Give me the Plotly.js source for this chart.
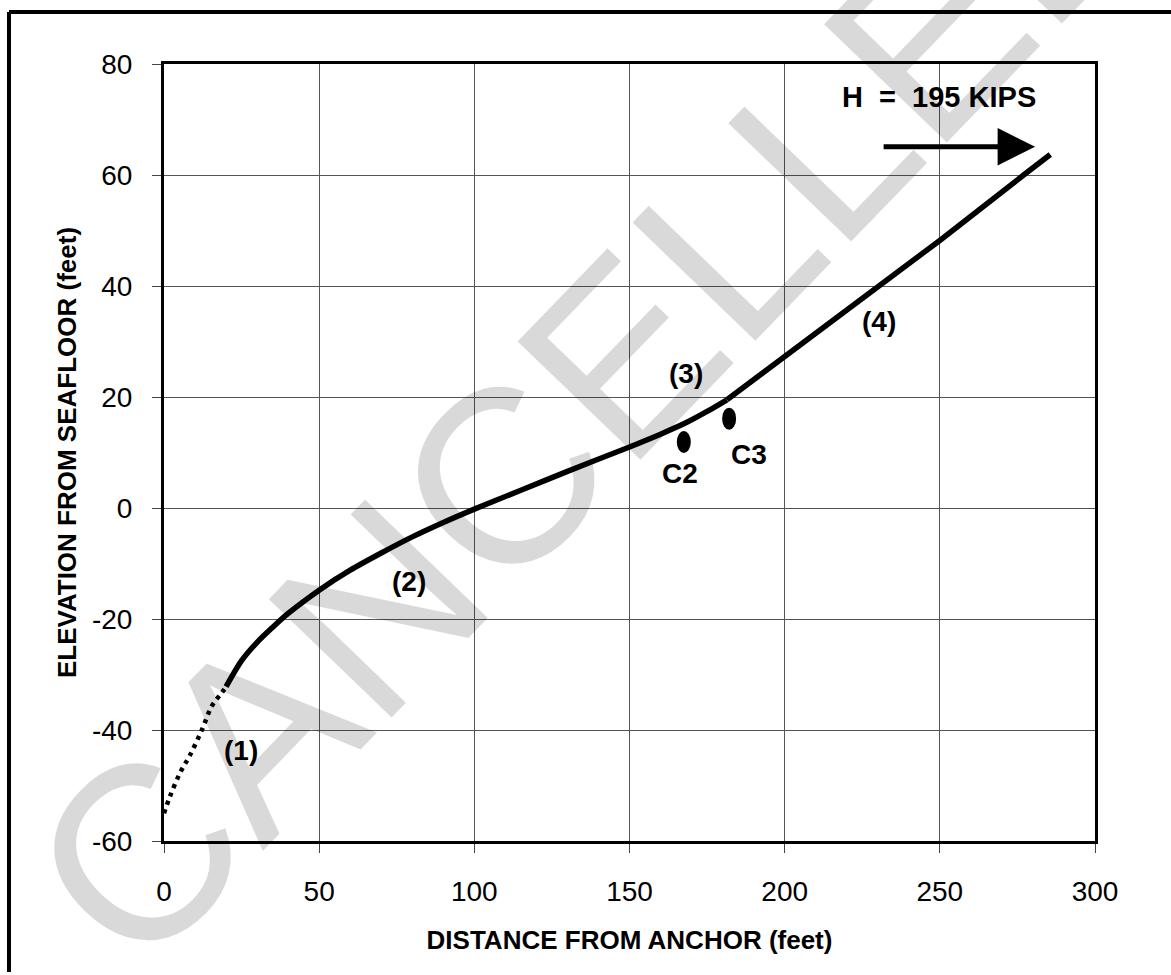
<!DOCTYPE html>
<html>
<head>
<meta charset="utf-8">
<script src="https://cdn.plot.ly/plotly-3.0.1.min.js"></script>
<style>html,body{margin:0;padding:0;background:#fff;}#chart{width:1171px;height:975px;}</style>
</head>
<body>
<div id="chart"></div>
<script>
// ---- data ----
const dottedX = [0, 1.9, 5.2, 8.4, 12.2, 15.4, 18.6, 20];
const dottedY = [-55, -52, -47.7, -44.5, -40, -35.7, -33.3, -32.2];

const curveX = [20, 25, 30, 35, 40, 50, 60, 70, 80, 90, 100, 115, 130, 150, 160, 168, 175, 181.4];
const curveY = [-32.2, -27.5, -24.2, -21.5, -19.0, -14.8, -11.2, -8.1, -5.2, -2.6, -0.2, 3.2, 6.6, 11.0, 13.3, 15.3, 17.4, 19.5];

const upperX = [181.4, 198.6, 228.7, 250.2, 277.0, 285.6];
const upperY = [19.5, 26.7, 39.3, 48.3, 60.0, 63.7];

const markerX = [167.5, 182.1];
const markerY = [11.9, 16.1];

const labelText = ['(1)', '(2)', '(3)', '(4)', 'C2', 'C3'];
const labelX = [24.8, 79.0, 168.2, 230.3, 166.3, 188.4];
const labelY = [-43.7, -13.2, 24.2, 33.6, 6.2, 9.6];

const forceText = 'H  =  195 KIPS';
const forceTextX = 249.6, forceTextY = 74.1;
const forceX = [231.4, 280.7];
const forceY = [65.1, 65.1];

const xTicks = [0, 50, 100, 150, 200, 250, 300];
const yTicks = [-60, -40, -20, 0, 20, 40, 60, 80];

const xTitle = 'DISTANCE FROM ANCHOR (feet)';
const yTitle = 'ELEVATION FROM SEAFLOOR (feet)';
const watermark = 'CANCELLED';

// ---- chart ----
const FONT = 'Liberation Sans, Arial, Helvetica, sans-serif';

const traces = [
  {x: dottedX, y: dottedY, mode: 'lines', line: {color: '#000', width: 4.5, dash: '4px,5px', shape: 'spline'}, hoverinfo: 'skip'},
  {x: curveX, y: curveY, mode: 'lines', line: {color: '#000', width: 5.5, shape: 'spline', smoothing: 0.8}, hoverinfo: 'skip'},
  {x: upperX, y: upperY, mode: 'lines', line: {color: '#000', width: 5.5}, hoverinfo: 'skip'}
];

const annotations = labelText.map((t, i) => ({
  x: labelX[i], y: labelY[i], xref: 'x', yref: 'y', text: '<b>' + t + '</b>',
  showarrow: false, font: {family: FONT, size: 28, color: '#000'}
}));
annotations.push({
  x: forceTextX, y: forceTextY, xref: 'x', yref: 'y', text: '<b>' + forceText + '</b>',
  showarrow: false, font: {family: FONT, size: 29, color: '#000'}
});
annotations.push({
  x: forceX[1], y: forceY[1], ax: forceX[0], ay: forceY[0], xref: 'x', yref: 'y', axref: 'x', ayref: 'y',
  text: '', showarrow: true, arrowhead: 2, arrowwidth: 5, arrowsize: 1.5, arrowcolor: '#000'
});
annotations.push({
  x: 0.461, y: 0.587, xref: 'paper', yref: 'paper', text: watermark, showarrow: false,
  textangle: -46, font: {family: FONT, size: 248, color: 'rgba(0,0,0,0.15)'}
});

const shapes = markerX.map((mx, i) => ({
  type: 'circle', xref: 'x', yref: 'y', xsizemode: 'pixel', ysizemode: 'pixel',
  xanchor: mx, yanchor: markerY[i], x0: -7, x1: 7, y0: -11, y1: 11,
  fillcolor: '#000', line: {width: 0}
}));
// outer frame (left and top edges of the page border)
shapes.push({type: 'line', xref: 'paper', yref: 'paper', x0: -0.1665, x1: 1.09, y0: 1.0669, y1: 1.0669, line: {color: '#000', width: 4}});
shapes.push({type: 'line', xref: 'paper', yref: 'paper', x0: -0.1665, x1: -0.1665, y0: 1.0669, y1: -0.1686, line: {color: '#000', width: 4}});

const layout = {
  width: 1171, height: 975,
  margin: {l: 164, r: 76, t: 64, b: 134},
  paper_bgcolor: '#fff', plot_bgcolor: '#fff',
  showlegend: false,
  font: {family: FONT, color: '#000'},
  xaxis: {
    range: [0, 300], tickvals: xTicks, ticktext: xTicks.map(String),
    showgrid: true, gridcolor: '#555', gridwidth: 1, zeroline: false,
    showline: true, linecolor: '#000', linewidth: 3, mirror: true,
    ticks: 'outside', ticklen: 9, tickcolor: '#444', tickwidth: 1,
    ticklabelstandoff: 14,
    tickfont: {family: FONT, size: 28, color: '#000'},
    title: {text: '<b>' + xTitle + '</b>', font: {family: FONT, size: 26, color: '#000'}, standoff: 26},
    automargin: false
  },
  yaxis: {
    range: [-60, 80], tickvals: yTicks, ticktext: yTicks.map(String),
    showgrid: true, gridcolor: '#555', gridwidth: 1, zeroline: false,
    showline: true, linecolor: '#000', linewidth: 3, mirror: true,
    ticks: 'outside', ticklen: 9, tickcolor: '#444', tickwidth: 1,
    ticklabelstandoff: 14,
    tickfont: {family: FONT, size: 28, color: '#000'},
    title: {text: '<b>' + yTitle + '</b>', font: {family: FONT, size: 26, color: '#000'}, standoff: 8},
    automargin: false
  },
  annotations: annotations,
  shapes: shapes
};

Plotly.newPlot('chart', traces, layout, {displayModeBar: false, staticPlot: true});
</script>
</body>
</html>
